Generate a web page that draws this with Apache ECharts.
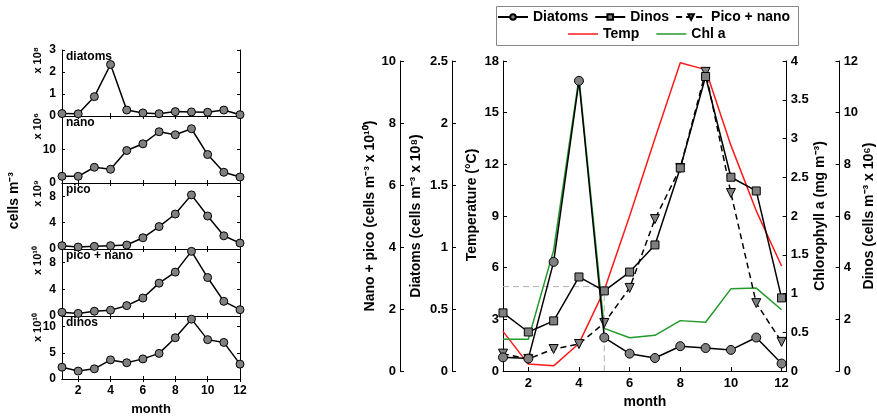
<!DOCTYPE html>
<html>
<head>
<meta charset="utf-8">
<script src="https://cdn.jsdelivr.net/npm/echarts@6/dist/echarts.min.js"></script>
<style>
  html, body { margin: 0; padding: 0; background: #fff; }
  #chart { width: 877px; height: 417px; }
</style>
</head>
<body>
<div id="chart"></div>
<script>
// Monthly series
const months = [1, 2, 3, 4, 5, 6, 7, 8, 9, 10, 11, 12];
const diatoms = [0.11, 0.10, 0.88, 2.34, 0.27, 0.14, 0.105, 0.20, 0.185, 0.17, 0.27, 0.06];   // x 10^8
const nano = [2.0, 2.0, 4.7, 4.1, 9.7, 11.7, 15.3, 14.4, 16.2, 8.5, 3.2, 1.8];               // x 10^6
const pico = [0.5, 0.3, 0.4, 0.5, 0.6, 1.7, 3.4, 5.3, 8.2, 5.0, 2.0, 0.9];                  // x 10^9
const picoNano = [0.56, 0.39, 0.71, 0.87, 1.55, 2.68, 4.9, 6.55, 9.65, 5.74, 2.19, 0.94];   // x 10^10
const dinos = [2.25, 1.51, 1.94, 3.64, 3.10, 3.83, 4.88, 7.86, 11.4, 7.5, 6.97, 2.83];
const temp = [2.3, 0.4, 0.3, 1.6, 4.7, 9.0, 13.5, 17.9, 17.5, 13.1, 9.3, 6.1];              // deg C
const chl = [0.41, 0.41, 1.56, 3.78, 0.55, 0.43, 0.46, 0.65, 0.63, 1.06, 1.07, 0.79];        // mg m^-3

// Guide: temperature threshold reached in month 5
const guideMonth = 5;
const guideTemp = 4.9;

// Tick labels
const monthTicks = [2, 4, 6, 8, 10, 12];
const panelNames = ['diatoms', 'nano', 'pico', 'pico + nano', 'dinos'];
const panelScales = ['x 10⁸', 'x 10⁶', 'x 10⁹', 'x 10¹⁰', 'x 10¹⁰'];
const panelMax = [3, 20, 10, 10, 12];
const panelTicks = [[0, 1, 2, 3], [0, 10], [0, 4, 8], [0, 4, 8], [0, 5, 10]];
const panelData = [diatoms, nano, pico, picoNano, dinos];

const FONT = 'Liberation Sans';
const pair = arr => arr.map((v, i) => [months[i], v]);
const txt = (size) => ({ color: '#000', fontFamily: FONT, fontWeight: 'bold', fontSize: size });

const grid = [{ left: 503, top: 61, width: 284, height: 310 }];
const xAxis = [{
  type: 'value', gridIndex: 0, min: 1, max: 12.2,
  name: 'month', nameLocation: 'middle', nameGap: 20, nameTextStyle: txt(14),
  axisLine: { lineStyle: { color: '#000', width: 1 } },
  axisTick: { inside: true, length: 4, customValues: monthTicks, lineStyle: { color: '#000' } },
  axisLabel: { customValues: monthTicks, margin: 6, ...txt(13) },
  splitLine: { show: false }
}];

function rightYAxis(opts) {
  return Object.assign({
    type: 'value', gridIndex: 0, nameLocation: 'middle', nameRotate: 90,
    nameTextStyle: txt(14),
    axisLine: { show: true, lineStyle: { color: '#000', width: 1 } },
    axisTick: { show: true, inside: true, length: 4, lineStyle: { color: '#000' } },
    axisLabel: Object.assign({ margin: 4 }, txt(13)),
    splitLine: { show: false }
  }, opts);
}

const yAxis = [
  rightYAxis({ position: 'left', offset: 0, min: 0, max: 18, interval: 3, name: 'Temperature (°C)', nameGap: 24,
    nameTextStyle: Object.assign(txt(14), { padding: [0, 0, 0, 22] }) }),
  rightYAxis({ position: 'left', offset: 103, min: 0, max: 10, interval: 2, name: 'Nano + pico (cells m⁻³ x 10¹⁰)', nameGap: 23 }),
  rightYAxis({ position: 'left', offset: 51, min: 0, max: 2.5, interval: 0.5, name: 'Diatoms (cells m⁻³ x 10⁸)', nameGap: 29 }),
  rightYAxis({ position: 'right', offset: 0, min: 0, max: 4, interval: 0.5, name: 'Chlorophyll a (mg m⁻³)', nameGap: 27 }),
  rightYAxis({ position: 'right', offset: 53, min: 0, max: 12, interval: 2, name: 'Dinos (cells m⁻³ x 10⁶)', nameGap: 22 })
];

const markerStyle = { color: '#808080', borderColor: '#000', borderWidth: 1 };

const series = [
  {
    type: 'line', xAxisIndex: 0, yAxisIndex: 0, silent: true, symbol: 'none',
    data: [[months[0], guideTemp], [guideMonth, guideTemp], [guideMonth, 0]],
    lineStyle: { color: '#b0b0b0', width: 1, type: [6, 4] }, z: 1
  },
  {
    name: 'Temp', type: 'line', xAxisIndex: 0, yAxisIndex: 0, symbol: 'none',
    data: pair(temp), lineStyle: { color: '#ff1a1a', width: 1.5 }, itemStyle: { color: '#ff1a1a' }, z: 2
  },
  {
    name: 'Chl a', type: 'line', xAxisIndex: 0, yAxisIndex: 3, symbol: 'none',
    data: pair(chl), lineStyle: { color: '#239a2b', width: 1.5 }, itemStyle: { color: '#239a2b' }, z: 3
  },
  {
    name: 'Pico + nano', type: 'line', xAxisIndex: 0, yAxisIndex: 1,
    symbol: 'triangle', symbolRotate: 180, symbolSize: 9, showAllSymbol: true,
    data: pair(picoNano), lineStyle: { color: '#000', width: 1.5, type: [6, 4] }, itemStyle: markerStyle, z: 4
  },
  {
    name: 'Dinos', type: 'line', xAxisIndex: 0, yAxisIndex: 4,
    symbol: 'rect', symbolSize: 8, showAllSymbol: true,
    data: pair(dinos), lineStyle: { color: '#000', width: 1.5 }, itemStyle: markerStyle, z: 5
  },
  {
    name: 'Diatoms', type: 'line', xAxisIndex: 0, yAxisIndex: 2,
    symbol: 'circle', symbolSize: 9, showAllSymbol: true,
    data: pair(diatoms), lineStyle: { color: '#000', width: 1.5 }, itemStyle: markerStyle, z: 6
  }
];

const graphic = [
  { type: 'rect', left: 496, top: 6, shape: { width: 302, height: 39 },
    style: { fill: '#fff', stroke: '#888', lineWidth: 1 }, z: -1 },
  { type: 'text', left: 7, top: 172, rotation: Math.PI / 2,
    style: { text: 'cells m⁻³', fill: '#000', font: 'bold 14px ' + FONT } }
];

// Small stacked panels on the left
const panelTops = [50, 116, 183, 249, 316];
const panelHeights = [66, 67, 66, 67, 66];
panelNames.forEach((nm, p) => {
  const gi = grid.length;
  grid.push({ left: 62, top: panelTops[p], width: 178, height: panelHeights[p] });
  const last = p === panelNames.length - 1;
  const xi = xAxis.length;
  xAxis.push({
    type: 'value', gridIndex: gi, min: 1, max: 12, position: 'bottom',
    name: last ? 'month' : '', nameLocation: 'middle', nameGap: 24, nameTextStyle: txt(13),
    axisLine: { lineStyle: { color: '#000', width: 1 } },
    axisTick: { inside: true, length: 3, customValues: monthTicks, lineStyle: { color: '#000' } },
    axisLabel: { show: last, customValues: monthTicks, margin: 6, ...txt(12) },
    splitLine: { show: false }
  });
  xAxis.push({
    type: 'value', gridIndex: gi, min: 1, max: 12, position: 'top',
    axisLine: { lineStyle: { color: '#000', width: 1 } },
    axisTick: { inside: true, length: 3, customValues: monthTicks, lineStyle: { color: '#000' } },
    axisLabel: { show: false }, splitLine: { show: false }
  });
  const yi = yAxis.length;
  yAxis.push({
    type: 'value', gridIndex: gi, min: 0, max: panelMax[p], position: 'left',
    axisLine: { show: true, lineStyle: { color: '#000', width: 1 } },
    axisTick: { show: true, inside: true, length: 3, customValues: panelTicks[p], lineStyle: { color: '#000' } },
    axisLabel: { customValues: panelTicks[p], margin: 6, ...txt(12) },
    splitLine: { show: false }
  });
  yAxis.push({
    type: 'value', gridIndex: gi, min: 0, max: panelMax[p], position: 'right',
    axisLine: { show: true, lineStyle: { color: '#000', width: 1 } },
    axisTick: { show: true, inside: true, length: 3, customValues: panelTicks[p], lineStyle: { color: '#000' } },
    axisLabel: { show: false }, splitLine: { show: false }
  });
  series.push({
    name: 'panel ' + nm, type: 'line', xAxisIndex: xi, yAxisIndex: yi,
    symbol: 'circle', symbolSize: 8, showAllSymbol: true,
    data: pair(panelData[p]), lineStyle: { color: '#000', width: 1.5 }, itemStyle: markerStyle
  });
  graphic.push({ type: 'text', left: 66, top: panelTops[p] + 1,
    style: { text: nm, fill: '#000', font: 'bold 12px ' + FONT } });
  graphic.push({ type: 'text', left: 32, top: panelTops[p] - 3, rotation: Math.PI / 2,
    style: { text: panelScales[p], fill: '#000', font: 'bold 11px ' + FONT } });
});

const lineIcon = 'path://M0,0 L30,0 L30,1.5 L0,1.5 Z';

const chart = echarts.init(document.getElementById('chart'), null, { renderer: 'canvas' });
chart.setOption({
  animation: false,
  backgroundColor: '#fff',
  grid, xAxis, yAxis, series, graphic,
  legend: [
    { data: ['Diatoms', 'Dinos', 'Pico + nano'], left: 497, top: 10, itemWidth: 30, itemHeight: 7,
      itemGap: 6, padding: 0, textStyle: txt(14), selectedMode: false },
    { data: [{ name: 'Temp', icon: lineIcon }, { name: 'Chl a', icon: lineIcon }],
      left: 568, top: 27, itemWidth: 30, itemHeight: 7,
      itemGap: 17, padding: 0, textStyle: txt(14), selectedMode: false }
  ]
});
</script>
</body>
</html>
